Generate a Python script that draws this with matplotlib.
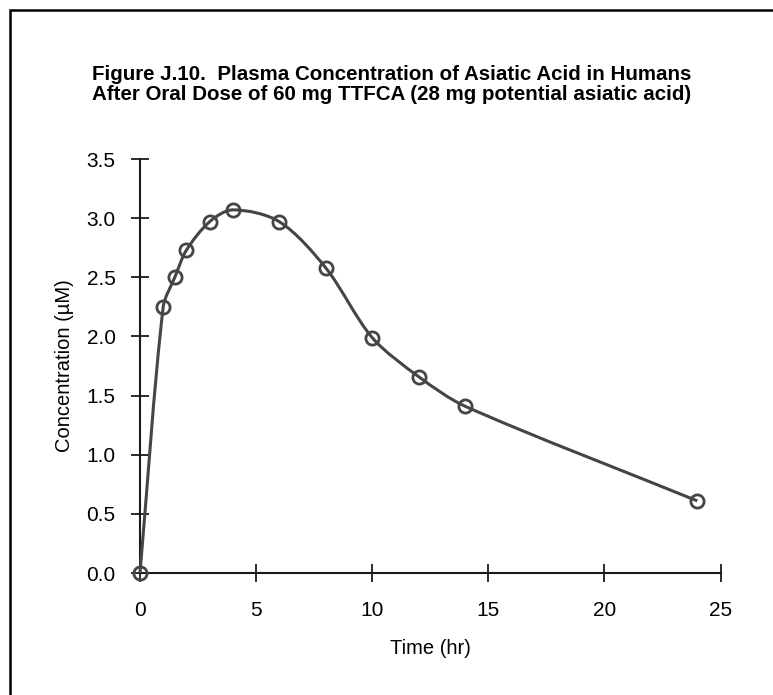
"""Plasma concentration of asiatic acid after an oral TTFCA dose (Figure J.10)."""

import numpy as np
import matplotlib
matplotlib.use("Agg")
import matplotlib.pyplot as plt
from matplotlib.path import Path
from matplotlib.patches import PathPatch, Rectangle

plt.rcParams["font.family"] = ["Liberation Sans", "DejaVu Sans"]

# sampling times (hr) and measured concentration (uM)
time_hr = [0, 1, 1.5, 2, 3, 4, 6, 8, 10, 12, 14, 24]
conc_um = [0.0, 2.25, 2.50, 2.73, 2.97, 3.07, 2.97, 2.58, 1.99, 1.66, 1.41, 0.61]

x_ticks = [0, 5, 10, 15, 20, 25]
y_ticks = [0.0, 0.5, 1.0, 1.5, 2.0, 2.5, 3.0, 3.5]

title_lines = [
    "Figure J.10.  Plasma Concentration of Asiatic Acid in Humans",
    "After Oral Dose of 60 mg TTFCA (28 mg potential asiatic acid)",
]

LINE = "#454545"


def smooth_path(ax, xs, ys, k=0.3):
    """Excel-like smoothed line: cubic Bezier through every point,
    tangents worked out in screen space so uneven spacing does not overshoot."""
    pts = ax.transData.transform(np.column_stack([xs, ys]).astype(float))
    n = len(pts)
    dirs = []
    for i in range(n):
        d = pts[min(i + 1, n - 1)] - pts[max(i - 1, 0)]
        dirs.append(d / np.hypot(*d))
    verts = [pts[0]]
    codes = [Path.MOVETO]
    for i in range(n - 1):
        seg = np.hypot(*(pts[i + 1] - pts[i]))
        verts += [pts[i] + dirs[i] * seg * k,
                  pts[i + 1] - dirs[i + 1] * seg * k,
                  pts[i + 1]]
        codes += [Path.CURVE4] * 3
    verts = ax.transData.inverted().transform(np.array(verts))
    return Path(verts, codes)


fig = plt.figure(figsize=(7.73, 6.95), dpi=100)
ax = fig.add_axes([0.1811, 0.1755, 0.7510, 0.5957])
ax.set_xlim(0, 25)
ax.set_ylim(0, 3.5)

# outer chart frame (runs off the right and bottom edges)
fig.patches.append(Rectangle((10 / 773, -0.05), 1.2, 0.05 + (695 - 10) / 695,
                             transform=fig.transFigure, fill=False,
                             edgecolor="black", linewidth=1.8))

ax.add_patch(PathPatch(smooth_path(ax, time_hr, conc_um), facecolor="none",
                       edgecolor=LINE, linewidth=2.2, zorder=3, clip_on=False))
ax.plot(time_hr, conc_um, linestyle="none", marker="o", markersize=9.5,
        markerfacecolor="none", markeredgecolor=LINE, markeredgewidth=2.0,
        zorder=4, clip_on=False)

ax.set_xticks(x_ticks)
ax.set_yticks(y_ticks)
ax.set_xticklabels([str(v) for v in x_ticks])
ax.set_yticklabels([f"{v:.1f}" for v in y_ticks])

for side in ("top", "right"):
    ax.spines[side].set_visible(False)
for side in ("left", "bottom"):
    ax.spines[side].set_color("#1a1a1a")
    ax.spines[side].set_linewidth(1.5)

ax.tick_params(axis="both", direction="inout", length=13, width=1.3,
               color="#1a1a1a", labelsize=15, labelcolor="black")
ax.tick_params(axis="x", pad=14)
ax.tick_params(axis="y", pad=11)

ax.set_xlabel("Time (hr)", fontsize=14.5, labelpad=13)
ax.set_ylabel("Concentration (\u00b5M)", fontsize=14.5, labelpad=9)

fig.text(392 / 773, 1 - 74 / 695, title_lines[0], ha="center", va="center",
         fontsize=14.8, fontweight="bold")
fig.text(392 / 773, 1 - 95 / 695, title_lines[1], ha="center", va="center",
         fontsize=14.8, fontweight="bold")

fig.savefig("out.png", dpi=100, facecolor="white")
